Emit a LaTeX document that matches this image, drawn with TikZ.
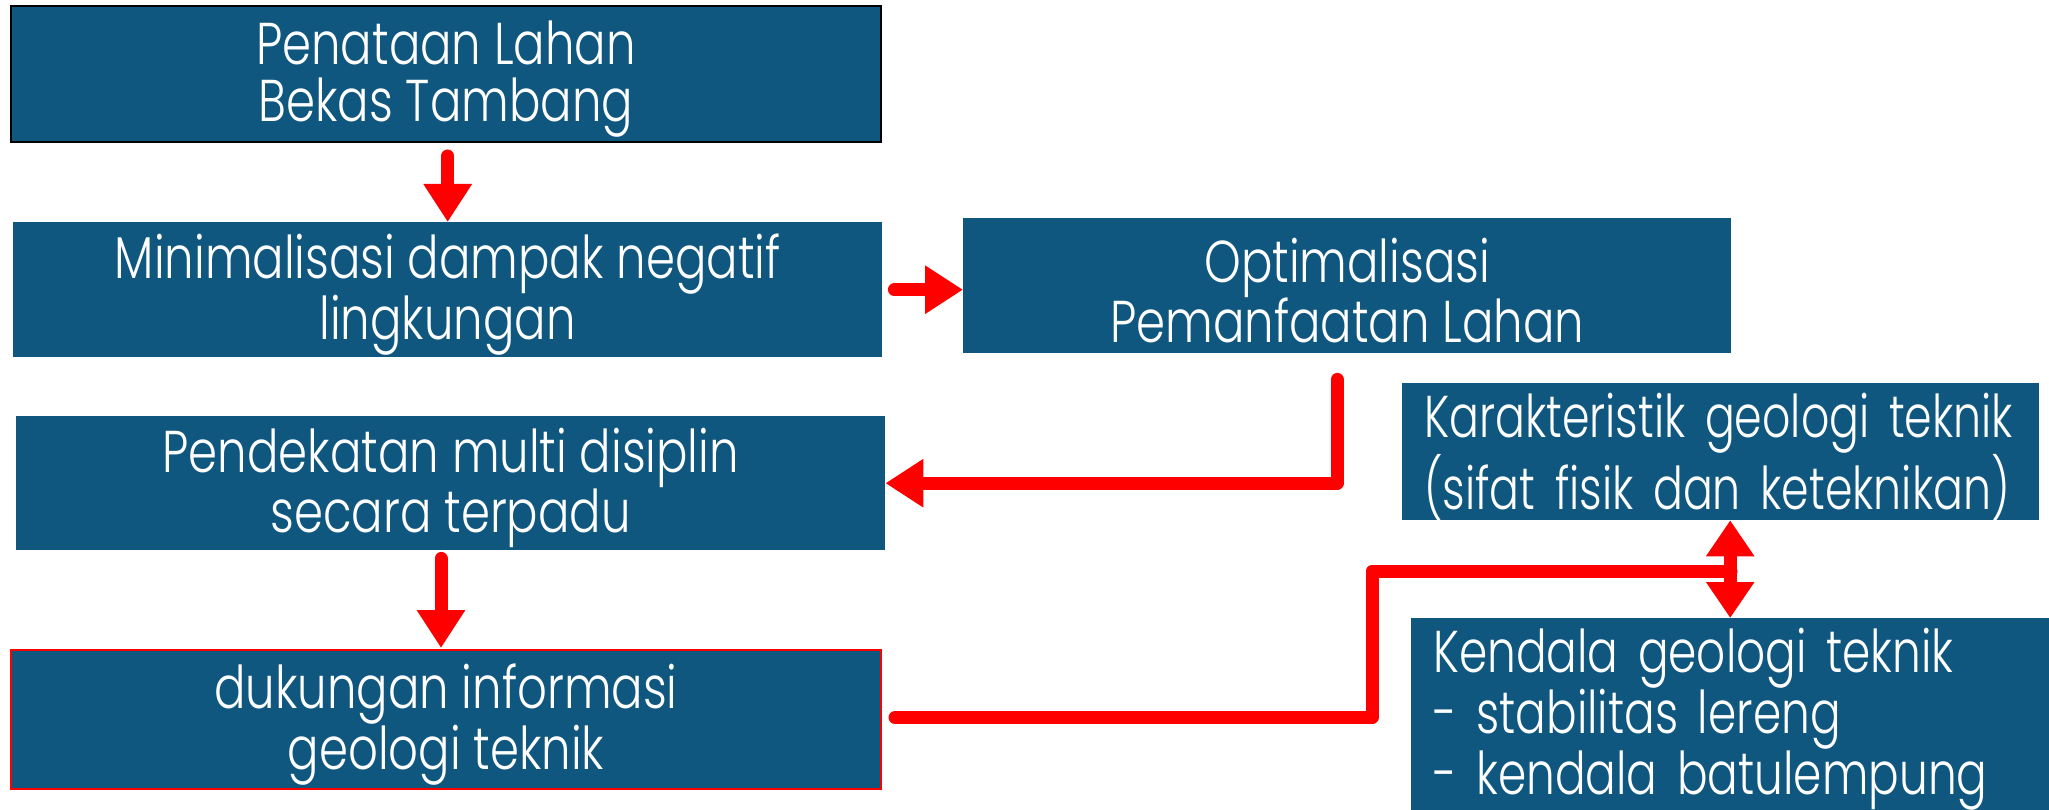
\documentclass[tikz,border=0pt]{standalone}
\usepackage{fontspec}
\setmainfont{Poppins}[UprightFont=* Light, FakeStretch=0.79]
\newfontfamily\narrowfont{Poppins}[UprightFont=* Light, FakeStretch=0.75]
\newfontfamily\midfont{Poppins}[UprightFont=* Light, FakeStretch=0.77]
\usetikzlibrary{arrows.meta,calc}
\definecolor{boxblue}{RGB}{16,87,128}
\definecolor{arred}{RGB}{255,0,0}
\newcommand\tstrut{\rule{0pt}{54pt}}
\tikzset{
  box/.style={rectangle, fill=boxblue, text=white, inner sep=0pt, anchor=north west,
    font=\fontsize{59}{57}\selectfont, align=center},
  lbox/.style={box, align=left, inner xsep=22pt},
  arr/.style={draw=arred, line width=13pt, line cap=round, line join=round,
    -{Triangle[width=46pt,length=38pt]}},
  darr/.style={draw=arred, line width=13pt,
    {Triangle[width=46pt,length=36pt]}-{Triangle[width=46pt,length=36pt]}},
  redline/.style={draw=arred, line width=13pt, line cap=round, line join=round}
}
\begin{document}
\begin{tikzpicture}[x=1pt,y=-1pt]
\useasboundingbox (0,0) rectangle (2049,810);
\node[box, draw=black, line width=2pt, minimum width=870pt, minimum height=136pt] (b1) at (10,5) {\tstrut Penataan Lahan\\Bekas Tambang};
\node[box, minimum width=869pt, minimum height=135pt] (b2) at (13,222) {\tstrut Minimalisasi dampak negatif\\lingkungan};
\node[box, minimum width=768pt, minimum height=135pt] (b3) at (963,218) {\tstrut Optimalisasi\\Pemanfaatan Lahan};
\node[box, minimum width=869pt, minimum height=134pt] (b4) at (16,416) {\tstrut Pendekatan multi disiplin\\secara terpadu};
\node[box, draw=arred, line width=2pt, minimum width=870pt, minimum height=139pt] (b5) at (10,649) {\tstrut dukungan informasi\\geologi teknik};
\node[lbox, text width=593pt, minimum height=134pt] (b6) at (1402,383) {\narrowfont\tstrut\mbox{Karakteristik geologi teknik}\\\mbox{(sifat fisik dan keteknikan)}};
\node[lbox, text width=594pt, minimum height=192pt] (b7) at (1411,618) {\midfont\tstrut Kendala geologi teknik\\- stabilitas lereng\\- kendala batulempung};
\coordinate (k) at (1372,571);
\coordinate (j) at (1731,571);
\draw[arr] ($(b1.south -| b2.north)+(0,13)$) -- (b2.north);
\draw[arr] ($(b2.east)+(12,0)$) -- (b2.east -| b3.west);
\draw[arr] ($(b3.south)+(-10,26)$) |- (b4.east);
\draw[arr] ($(b4.south -| b5.north)+(-5,8)$) -- ($(b5.north)+(-5,-1)$);
\draw[redline] ($(b5.east)+(13,-2)$) -| (k) -- (j);
\draw[darr] (b6.south -| b7.north) -- (b7.north);
\end{tikzpicture}
\end{document}
